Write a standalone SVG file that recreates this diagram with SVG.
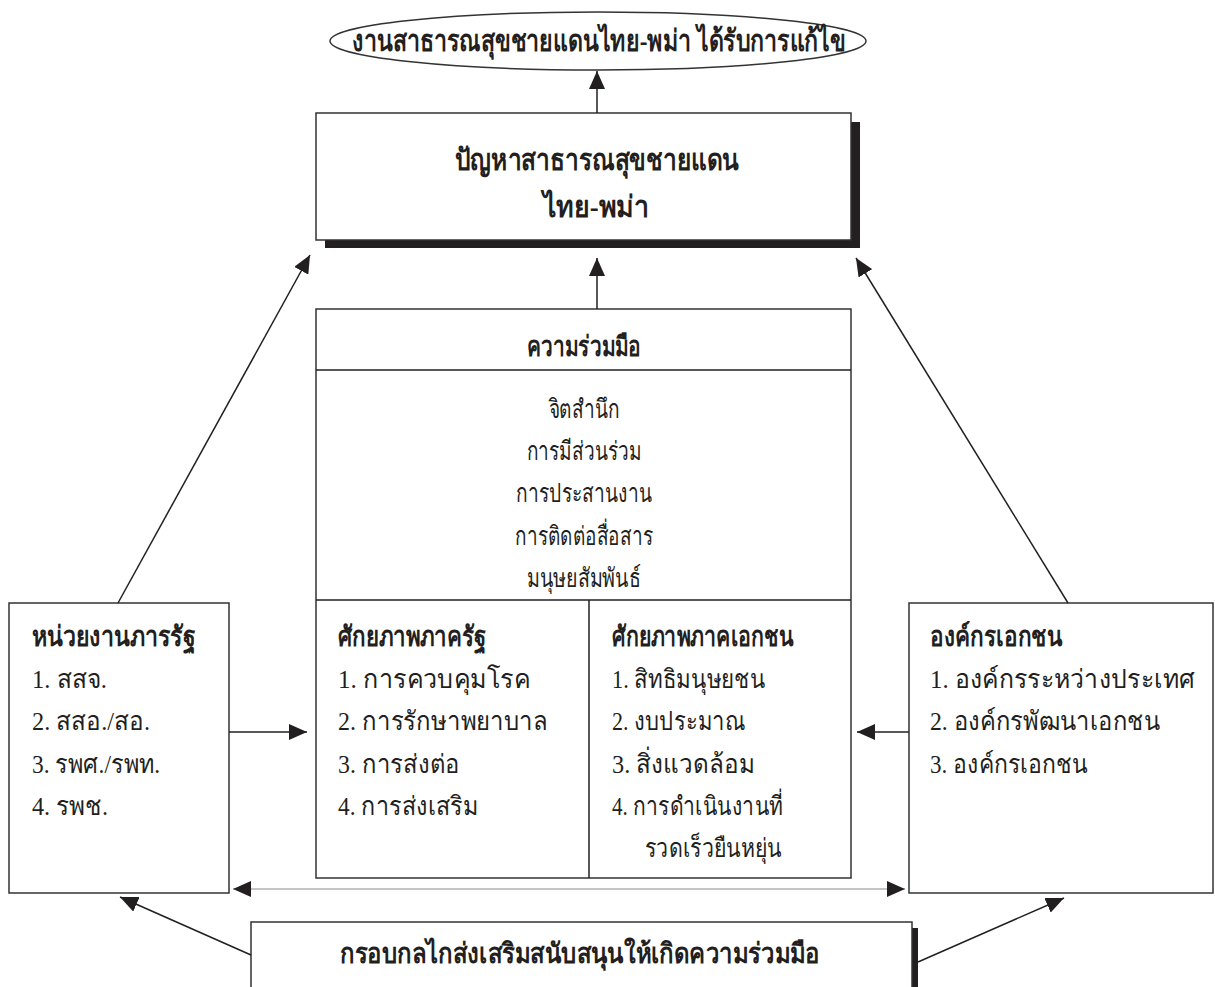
<svg xmlns="http://www.w3.org/2000/svg" width="1215" height="987" viewBox="0 0 1215 987">
<style>
text{font-family:"Liberation Serif","DejaVu Serif","Noto Sans",serif;font-size:26px;fill:#231f20}
.b{font-weight:bold;font-size:28px}
.t{font-size:30px}
.c{text-anchor:middle}
.box{fill:#fff;stroke:#333;stroke-width:1.5}
.ln{stroke:#231f20;stroke-width:1.5;fill:none}
.gl{stroke:#8a8a8a;stroke-width:1.2;fill:none}
.sh{fill:#231f20}
</style>
<defs>
<marker id="ah" markerUnits="userSpaceOnUse" markerWidth="20" markerHeight="16" refX="18" refY="8" orient="auto-start-reverse" viewBox="0 0 20 16">
<path d="M0,0 L18,8 L0,16 Z" fill="#231f20"/>
</marker>
</defs>
<g id="goal">
<ellipse cx="598" cy="41" rx="268" ry="29" fill="#fff" stroke="#333" stroke-width="1.5"/>
<text class="b c t" x="599" y="51" textLength="494" lengthAdjust="spacingAndGlyphs">งานสาธารณสุขชายแดนไทย-พม่า ได้รับการแก้ไข</text>
</g>
<g id="problem">
<rect class="sh" x="325" y="122" width="535" height="126"/>
<rect class="box" x="316" y="113" width="535" height="127"/>
<text class="b c t" x="597" y="170" textLength="285" lengthAdjust="spacingAndGlyphs">ปัญหาสาธารณสุขชายแดน</text>
<text class="b c t" x="596" y="217" textLength="107" lengthAdjust="spacingAndGlyphs">ไทย-พม่า</text>
</g>
<g id="cooperation">
<rect class="box" x="316" y="309" width="535" height="569"/>
<line class="ln" x1="316" y1="370" x2="851" y2="370"/>
<line class="ln" x1="316" y1="600" x2="851" y2="600"/>
<line class="ln" x1="589" y1="600" x2="589" y2="878"/>
<text class="b c" x="584" y="356" textLength="114" lengthAdjust="spacingAndGlyphs">ความร่วมมือ</text>
<text class="c" x="584" y="418" textLength="71" lengthAdjust="spacingAndGlyphs">จิตสำนึก</text>
<text class="c" x="584" y="460" textLength="115" lengthAdjust="spacingAndGlyphs">การมีส่วนร่วม</text>
<text class="c" x="584" y="502" textLength="136" lengthAdjust="spacingAndGlyphs">การประสานงาน</text>
<text class="c" x="584" y="545" textLength="138" lengthAdjust="spacingAndGlyphs">การติดต่อสื่อสาร</text>
<text class="c" x="584" y="587" textLength="114" lengthAdjust="spacingAndGlyphs">มนุษยสัมพันธ์</text>
<text class="b" x="338" y="646" textLength="148" lengthAdjust="spacingAndGlyphs">ศักยภาพภาครัฐ</text>
<text x="338" y="688" textLength="192" lengthAdjust="spacingAndGlyphs">1. การควบคุมโรค</text>
<text x="338" y="730" textLength="210" lengthAdjust="spacingAndGlyphs">2. การรักษาพยาบาล</text>
<text x="338" y="773" textLength="122" lengthAdjust="spacingAndGlyphs">3. การส่งต่อ</text>
<text x="338" y="815" textLength="140" lengthAdjust="spacingAndGlyphs">4. การส่งเสริม</text>
<text class="b" x="612" y="646" textLength="181" lengthAdjust="spacingAndGlyphs">ศักยภาพภาคเอกชน</text>
<text x="612" y="688" textLength="153" lengthAdjust="spacingAndGlyphs">1. สิทธิมนุษยชน</text>
<text x="612" y="730" textLength="133" lengthAdjust="spacingAndGlyphs">2. งบประมาณ</text>
<text x="612" y="773" textLength="143" lengthAdjust="spacingAndGlyphs">3. สิ่งแวดล้อม</text>
<text x="612" y="815" textLength="171" lengthAdjust="spacingAndGlyphs">4. การดำเนินงานที่</text>
<text x="645" y="857" textLength="137" lengthAdjust="spacingAndGlyphs">รวดเร็วยืนหยุ่น</text>
</g>
<g id="government">
<rect class="box" x="9" y="603" width="220" height="290"/>
<text class="b" x="32" y="646" textLength="163" lengthAdjust="spacingAndGlyphs">หน่วยงานภารรัฐ</text>
<text x="32" y="688" textLength="75" lengthAdjust="spacingAndGlyphs">1. สสจ.</text>
<text x="32" y="730" textLength="118" lengthAdjust="spacingAndGlyphs">2. สสอ./สอ.</text>
<text x="32" y="773" textLength="128" lengthAdjust="spacingAndGlyphs">3. รพศ./รพท.</text>
<text x="32" y="815" textLength="76" lengthAdjust="spacingAndGlyphs">4. รพช.</text>
</g>
<g id="ngo">
<rect class="box" x="909" y="603" width="304" height="290"/>
<text class="b" x="930" y="646" textLength="132" lengthAdjust="spacingAndGlyphs">องค์กรเอกชน</text>
<text x="930" y="688" textLength="265" lengthAdjust="spacingAndGlyphs">1. องค์กรระหว่างประเทศ</text>
<text x="930" y="730" textLength="230" lengthAdjust="spacingAndGlyphs">2. องค์กรพัฒนาเอกชน</text>
<text x="930" y="773" textLength="158" lengthAdjust="spacingAndGlyphs">3. องค์กรเอกชน</text>
</g>
<g id="framework">
<rect class="sh" x="911" y="928" width="7" height="60"/>
<rect class="box" x="251" y="922" width="661" height="70"/>
<text class="b c" x="580" y="963" textLength="480" lengthAdjust="spacingAndGlyphs">กรอบกลไกส่งเสริมสนับสนุนให้เกิดความร่วมมือ</text>
</g>
<g id="connectors">
<line class="ln" x1="597" y1="113" x2="597" y2="71" marker-end="url(#ah)"/>
<line class="ln" x1="597" y1="309" x2="597" y2="258" marker-end="url(#ah)"/>
<line class="ln" x1="118" y1="603" x2="310" y2="255" marker-end="url(#ah)"/>
<line class="ln" x1="1068" y1="603" x2="856" y2="258" marker-end="url(#ah)"/>
<line class="ln" x1="229" y1="732" x2="307" y2="732" marker-end="url(#ah)"/>
<line class="ln" x1="909" y1="732" x2="857" y2="732" marker-end="url(#ah)"/>
<line class="gl" x1="233" y1="889" x2="905" y2="889" marker-start="url(#ah)" marker-end="url(#ah)"/>
<line class="ln" x1="251" y1="955" x2="120" y2="897" marker-end="url(#ah)"/>
<line class="ln" x1="918" y1="962" x2="1064" y2="898" marker-end="url(#ah)"/>
</g>
</svg>
